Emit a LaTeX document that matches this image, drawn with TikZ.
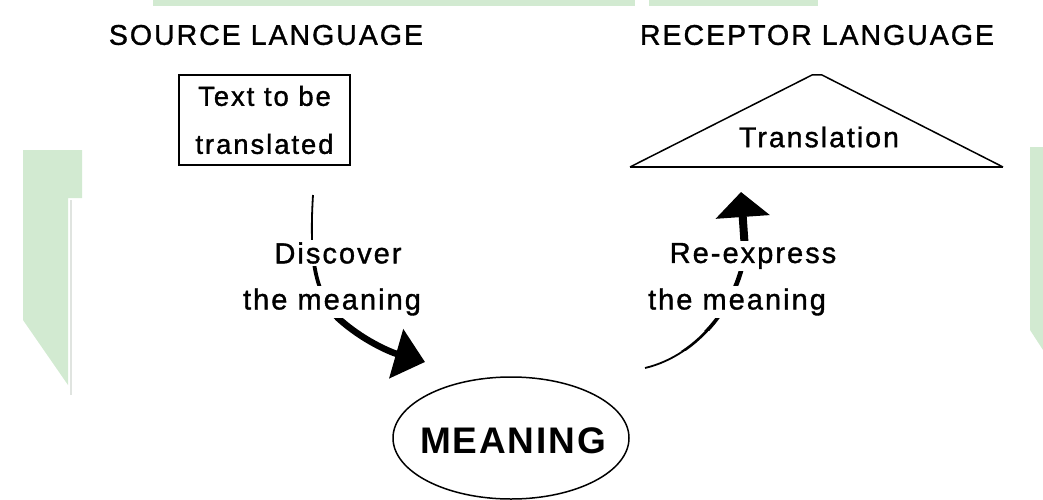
\documentclass[tikz,border=0pt]{standalone}
\usepackage{fontspec}
\setmainfont{Liberation Sans}
\newfontfamily\spfont[LetterSpace=7,FakeBold=1.2]{Liberation Sans}
\newfontfamily\mfont[LetterSpace=5]{Liberation Sans}
\usetikzlibrary{shapes.geometric,arrows.meta}
\definecolor{wm}{RGB}{210,234,209}
\definecolor{wmg}{RGB}{224,228,224}
\begin{document}
\begin{tikzpicture}[x=1pt,y=-1pt,
  head/.style={font=\spfont\fontsize{28.5}{32}\selectfont, inner sep=0pt},
  lbl/.style={font=\spfont\fontsize{29}{32}\selectfont, fill=white, inner sep=2.5pt},
  boxtext/.style={font=\spfont\fontsize{27.5}{48}\selectfont, align=center},
  edge/.style={line width=#1, line cap=butt}]
\useasboundingbox (0,0) rectangle (1043,500);
% faint watermark
\fill[wm] (153,0) rectangle (635,6);
\fill[wm] (649,0) rectangle (818,6);
\fill[wm] (23,150) -- (82,150) -- (82,198) -- (68,198) -- (68,385) -- (23,320) -- cycle;
\draw[wmg, line width=2] (71,200) -- (71,395);
\fill[wm] (1030,147) -- (1043,147) -- (1043,350) -- (1030,330) -- cycle;

% headings
\node[head] (src) at (266,35) {SOURCE LANGUAGE};
\node[head] (rec) at (817,35) {RECEPTOR LANGUAGE};

% source box
\node[draw, line width=2, minimum width=171, minimum height=90, boxtext] (box) at (264.5,120) {Text to be\\translated};

% receptor triangle
\coordinate (tl) at (630,167);
\coordinate (ta) at (812,75);
\coordinate (tb) at (822,75);
\coordinate (tr) at (1003,167);
\draw[line width=1.5] (tl) -- (ta) -- (tb) -- (tr);
\draw[line width=2.4] (tl) -- (tr);
\node[font=\spfont\fontsize{28.5}{32}\selectfont] (trans) at (819,137) {Translation};

% meaning ellipse
\node[ellipse, draw, line width=1.5, minimum width=236, minimum height=122, inner sep=0pt] (mean) at (511,438) {};
\node[font=\mfont\bfseries\fontsize{37}{40}\selectfont] (meantext) at (513,441) {MEANING};

% left connector
\coordinate (ls) at (313,195);
\coordinate (lm) at (338,318);
\coordinate (le) at (425,362);
\begin{scope}
\clip (0,0) rectangle (1043,255);
\draw[edge=1.8] (ls) .. controls (309,260) and (315,292) .. (lm) .. controls (362,340) and (390,352) .. (le);
\end{scope}
\begin{scope}
\clip (0,255) rectangle (1043,303);
\draw[edge=3.8] (ls) .. controls (309,260) and (315,292) .. (lm) .. controls (362,340) and (390,352) .. (le);
\end{scope}
\begin{scope}
\clip (0,303) rectangle (1043,500);
\draw[edge=6.5, -{Triangle[length=30pt,width=50pt]}] (ls) .. controls (309,260) and (315,292) .. (lm) .. controls (362,340) and (390,352) .. (le);
\end{scope}

% right connector
\coordinate (rs) at (645,368);
\coordinate (rm) at (745,250);
\coordinate (re) at (741,192);
\begin{scope}
\clip (0,350) rectangle (1043,500);
\draw[edge=1.8] (rs) .. controls (700,355) and (740,300) .. (rm) -- (re);
\end{scope}
\begin{scope}
\clip (0,330) rectangle (1043,350);
\draw[edge=2.6] (rs) .. controls (700,355) and (740,300) .. (rm) -- (re);
\end{scope}
\begin{scope}
\clip (0,303) rectangle (1043,330);
\draw[edge=3.6] (rs) .. controls (700,355) and (740,300) .. (rm) -- (re);
\end{scope}
\begin{scope}
\clip (0,253) rectangle (1043,303);
\draw[edge=4.6] (rs) .. controls (700,355) and (740,300) .. (rm) -- (re);
\end{scope}
\begin{scope}
\clip (0,0) rectangle (1043,253);
\draw[edge=8, -{Triangle[length=25pt,width=53pt]}] (rs) .. controls (700,355) and (740,300) .. (rm) -- (re);
\end{scope}

% labels
\node[lbl] (disc) at (338,253) {Discover};
\node[lbl] (lmean) at (332,302) {the meaning};
\node[lbl] (reexp) at (753,256) {Re-express};
\node[lbl] (rmean) at (737,302) {the meaning};
\end{tikzpicture}
\end{document}
